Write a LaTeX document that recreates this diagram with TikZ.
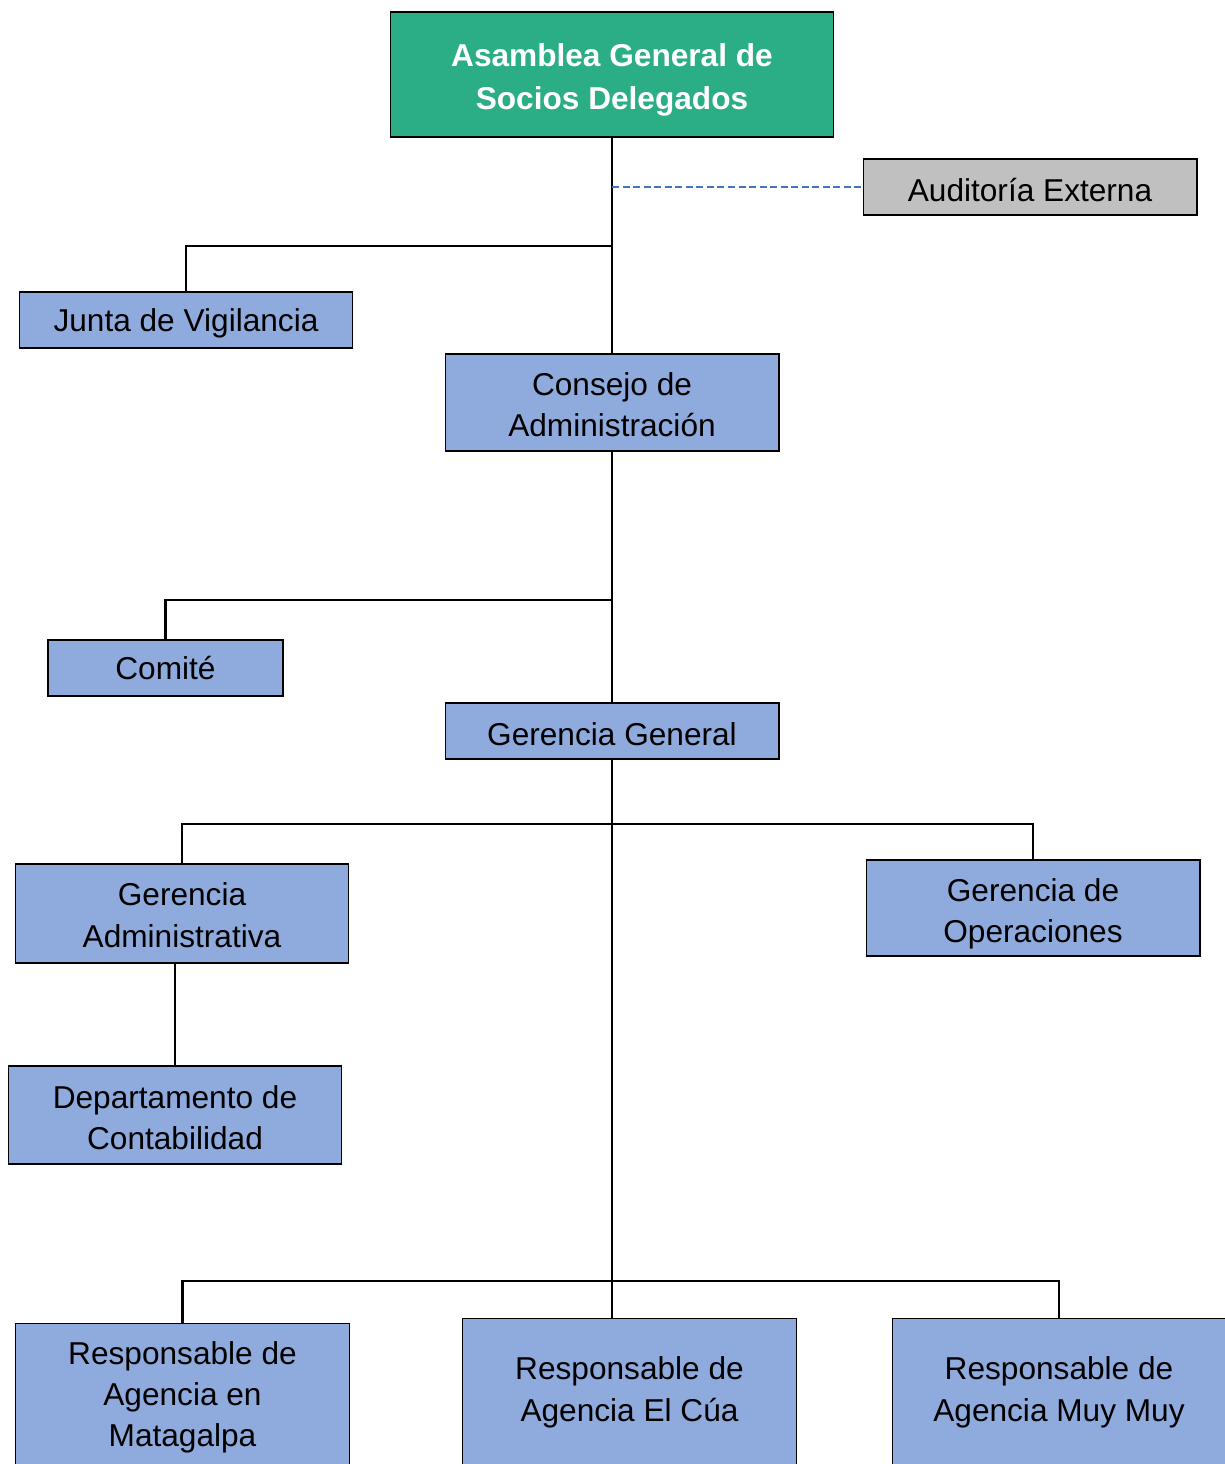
\documentclass[tikz,border=0pt]{standalone}
\usepackage{fontspec}
\setmainfont{Liberation Sans}
\usepackage{tikz}
\usetikzlibrary{positioning, calc}
\definecolor{mygreen}{RGB}{43,174,133}
\definecolor{myblue}{RGB}{143,170,220}
\definecolor{mygray}{RGB}{192,192,192}
\definecolor{mydash}{RGB}{68,114,196}
\newcommand{\txtlift}[1]{\rule{0pt}{#1}}
\tikzset{
  block/.style={rectangle, draw=black, fill=myblue, align=center,
    minimum width=6.68cm, minimum height=1.12cm, inner sep=0pt,
    font=\fontsize{18pt}{23.5pt}\selectfont, line width=0.6pt},
  greenblock/.style={block, fill=mygreen, text=white,
    font=\fontsize{18pt}{24.5pt}\selectfont\bfseries},
  grayblock/.style={block, fill=mygray},
  line/.style={line width=1.3pt, color=black},
  dashline/.style={line width=1pt, color=mydash, dashed, dash pattern=on 4pt off 2pt}
}
\begin{document}
\begin{tikzpicture}[x=0.02cm, y=-0.02cm]
  \useasboundingbox (0,0) rectangle (1224,1464);
  \node[greenblock, minimum width=8.88cm, minimum height=2.5cm] (asamblea) at (612,74.5) {\txtlift{19.5pt}Asamblea General de\\Socios Delegados};
  \node[grayblock] (auditoria) at (1030,187) {\txtlift{16.5pt}Auditoría Externa};
  \node[block] (junta) at (186,320) {\txtlift{17pt}Junta de Vigilancia};
  \node[block, minimum height=1.94cm] (consejo) at (612,402.5) {\txtlift{15.5pt}Consejo de\\Administración};
  \node[block, minimum width=4.7cm] (comite) at (165.5,668) {Comité};
  \node[block] (gerencia) at (612,731) {\txtlift{16.5pt}Gerencia General};
  \node[block, minimum height=1.98cm] (gadmin) at (182,913.5) {\txtlift{15pt}Gerencia\\Administrativa};
  \node[block, minimum height=1.92cm] (goper) at (1033,908) {\txtlift{20pt}Gerencia de\\Operaciones};
  \node[block, minimum height=1.96cm] (contab) at (175,1115) {\txtlift{16pt}Departamento de\\Contabilidad};
  \node[block, minimum height=2.95cm, anchor=north] (matagalpa) at (182.5,1323) {Responsable de\\Agencia en\\Matagalpa};
  \node[block, minimum height=2.95cm, anchor=north] (elcua) at (629.5,1318) {Responsable de\\Agencia El Cúa};
  \node[block, minimum height=2.95cm, anchor=north] (muymuy) at (1059,1318) {Responsable de\\Agencia Muy Muy};

  % branch points
  \coordinate (b1) at (612,246);
  \coordinate (b2) at (612,600);
  \coordinate (b3) at (612,824);
  \coordinate (b4) at (612,1281);

  \draw[line] (asamblea.south) -- (consejo.north);
  \draw[dashline] (asamblea.south |- auditoria.west) -- (auditoria.west);
  \draw[line] (b1) -| (junta.north);
  \draw[line] (consejo.south) -- (gerencia.north);
  \draw[line] (b2) -| (comite.north);
  \draw[line] (gerencia.south) -- (gerencia.south |- elcua.north);
  \draw[line] (gadmin.north) |- (b3) -| (goper.north);
  \draw[line] (contab.north) -- (contab.north |- gadmin.south);
  \draw[line] (matagalpa.north) |- (b4) -| (muymuy.north);
\end{tikzpicture}
\end{document}
